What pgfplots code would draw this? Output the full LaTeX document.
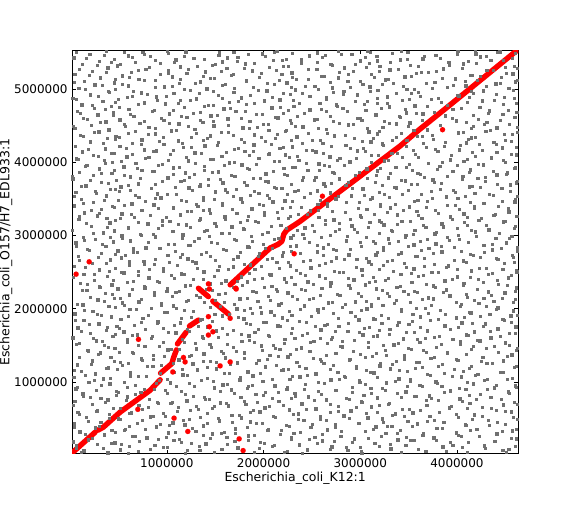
\documentclass[border=0pt]{standalone}
\usepackage{fontspec}
\setmainfont{DejaVu Sans}
\usepackage{pgfplots}
\pgfplotsset{compat=1.18}
\definecolor{dotgray}{RGB}{112,112,112}
\definecolor{hitred}{RGB}{255,0,0}
\begin{document}
\begin{tikzpicture}
\begin{axis}[
  scale only axis, width=446bp, height=403bp,
  xmin=20, xmax=4635, ymin=20, ymax=5530,
  xtick={1000,2000,3000,4000},
  xticklabels={1000000,2000000,3000000,4000000},
  ytick={1000,2000,3000,4000,5000},
  yticklabels={1000000,2000000,3000000,4000000,5000000},
  tick align=inside, major tick length=4bp,
  tick style={black, line width=0.6bp},
  axis line style={black, line width=0.9bp},
  ticklabel style={font=\fontsize{12}{14}\selectfont},
  /pgf/number format/assume math mode=true,
  xticklabel style={yshift=-1bp},
  yticklabel style={xshift=-1bp},
  xlabel={Escherichia\_coli\_K12:1},
  ylabel={Escherichia\_coli\_O157/H7\_EDL933:1},
  every axis x label/.style={at={(axis description cs:0.5,0)}, anchor=center, yshift=-25bp, font=\fontsize{12.5}{14}\selectfont},
  every axis y label/.style={at={(axis description cs:-0.148,0.5)}, rotate=90, anchor=center, font=\fontsize{12.5}{14}\selectfont},
  clip=true,
]
\coordinate (SW) at (rel axis cs:0,0);
\coordinate (NE) at (rel axis cs:1,1);
% grey random word hits (set 1)
\addplot[color=dotgray, only marks, mark=square*, mark size=1.0bp, mark options={solid, fill=dotgray, draw=dotgray, line width=0.2bp}] coordinates {
(112,48)(603,31)(1210,66)(1490,40)(2240,55)(2400,29)(3010,62)(3420,37)(3890,51)(4510,44)
(340,95)(822,80)(1003,110)(1777,74)(1950,101)(2690,88)(2850,115)(3600,79)(4050,106)(4290,92)
(61,140)(530,158)(1330,122)(1620,149)(2105,131)(2555,160)(3190,127)(3310,152)(3955,138)(4600,120)
(420,170)(710,199)(1150,183)(1840,207)(2010,166)(2730,190)(2920,175)(3560,204)(4120,180)(4380,195)
(230,240)(905,214)(990,251)(1450,228)(2290,246)(2470,219)(3085,233)(3470,250)(3780,212)(4555,237)
(150,290)(640,262)(1380,279)(1710,298)(1905,270)(2610,284)(3220,260)(3650,295)(4010,276)(4230,258)
(470,310)(560,339)(1090,322)(1560,305)(2180,344)(2380,318)(2800,330)(3380,307)(4140,341)(4470,325)
(45,380)(780,352)(1260,370)(1825,389)(2050,361)(2740,377)(3130,350)(3540,391)(3850,366)(4615,357)
(300,401)(930,428)(1020,410)(1420,436)(2260,396)(2500,419)(2990,437)(3280,404)(4080,423)(4330,408)
(190,470)(690,445)(1170,482)(1680,458)(1990,441)(2650,474)(3240,450)(3690,466)(3760,481)(4420,447)
(400,512)(520,490)(1340,526)(1530,501)(2120,519)(2360,488)(2880,507)(3450,529)(4160,494)(4580,515)
(95,560)(860,536)(960,572)(1750,549)(2310,565)(2580,540)(3060,575)(3330,545)(3990,558)(4260,533)
(270,600)(610,581)(1240,615)(1860,590)(1890,620)(2770,597)(3170,583)(3620,612)(3820,586)(4500,604)
(440,650)(740,628)(1120,661)(1470,640)(2060,667)(2440,633)(2960,654)(3510,626)(4100,648)(4350,637)
(30,690)(905,705)(1300,676)(1610,712)(2200,681)(2690,699)(3200,688)(3300,710)(3940,672)(4620,703)
(360,730)(580,758)(1050,719)(1800,745)(1930,731)(2520,755)(3020,722)(3680,750)(4050,736)(4200,760)
(210,790)(820,770)(1390,800)(1440,766)(2280,785)(2330,805)(2850,775)(3420,796)(3730,781)(4460,765)
(130,812)(670,840)(1190,829)(1700,851)(2000,818)(2600,835)(3110,847)(3580,810)(4130,826)(4540,843)
(480,880)(500,858)(980,895)(1550,871)(2150,862)(2750,890)(2920,856)(3260,884)(3870,868)(4310,897)
(75,925)(760,904)(1280,940)(1830,917)(2240,930)(2420,902)(3230,921)(3640,943)(4020,910)(4610,936)
(320,960)(890,985)(1100,950)(1620,975)(1880,956)(2630,989)(3050,968)(3480,947)(3790,980)(4400,962)
(250,1020)(560,995)(1350,1030)(1480,1008)(2090,1035)(2560,1001)(2990,1025)(3360,1012)(4110,994)(4280,1028)
(410,1050)(700,1075)(1000,1042)(1760,1062)(2300,1080)(2780,1046)(3170,1069)(3520,1039)(3950,1077)(4570,1055)
(160,1100)(930,1121)(1210,1090)(1590,1115)(1960,1127)(2450,1098)(2830,1086)(3690,1110)(3870,1125)(4190,1093)
(40,1160)(620,1135)(1310,1170)(1840,1144)(2180,1157)(2690,1173)(3100,1139)(3400,1166)(4060,1151)(4480,1131)
(370,1190)(800,1215)(1160,1180)(1420,1205)(2250,1178)(2370,1219)(2960,1196)(3570,1183)(3810,1212)(4590,1200)
(220,1250)(540,1226)(1070,1260)(1650,1238)(1920,1264)(2720,1231)(3210,1255)(3330,1244)(4150,1223)(4360,1262)
(450,1280)(740,1305)(1380,1290)(1510,1271)(2040,1309)(2600,1285)(2880,1299)(3610,1276)(3990,1311)(4250,1288)
(90,1340)(860,1318)(970,1352)(1800,1330)(2150,1356)(2510,1322)(3050,1345)(3450,1315)(3760,1337)(4520,1350)
(290,1380)(650,1400)(1250,1365)(1580,1392)(2270,1376)(2650,1361)(3160,1398)(3270,1372)(4090,1387)(4430,1403)
(180,1430)(510,1410)(1130,1445)(1720,1420)(1990,1438)(2340,1449)(2930,1416)(3650,1433)(3900,1408)(4610,1441)
(390,1470)(920,1490)(1040,1455)(1460,1481)(2120,1463)(2790,1494)(3080,1476)(3500,1459)(4170,1488)(4300,1466)
(60,1520)(700,1500)(1290,1535)(1620,1511)(2210,1527)(2480,1540)(3240,1504)(3390,1531)(3840,1517)(4540,1499)
(330,1560)(590,1585)(1180,1550)(1850,1572)(1900,1547)(2700,1580)(2810,1563)(3590,1588)(4030,1554)(4210,1576)
(240,1600)(850,1625)(1380,1593)(1530,1617)(2060,1631)(2590,1606)(3130,1622)(3670,1597)(3760,1613)(4450,1633)
(470,1660)(640,1640)(1010,1675)(1770,1652)(2290,1668)(2400,1644)(2990,1679)(3300,1656)(4120,1637)(4600,1670)
(110,1700)(780,1720)(1230,1690)(1690,1711)(1940,1724)(2740,1697)(3200,1707)(3470,1685)(3930,1719)(4340,1702)
(380,1750)(510,1735)(1320,1765)(1570,1742)(2170,1759)(2530,1770)(3040,1730)(3620,1754)(4010,1745)(4270,1768)
(200,1790)(900,1810)(1080,1778)(1820,1801)(2030,1815)(2660,1786)(2870,1806)(3380,1780)(4160,1798)(4560,1815)
(50,1850)(730,1825)(1360,1860)(1470,1838)(2240,1845)(2440,1822)(3150,1857)(3540,1831)(3800,1862)(4490,1841)
(420,1880)(600,1905)(1150,1870)(1740,1893)(2110,1908)(2770,1876)(2950,1898)(3290,1867)(4070,1889)(4240,1903)
(280,1930)(810,1915)(970,1950)(1640,1925)(1880,1941)(2560,1955)(3220,1920)(3700,1944)(3880,1933)(4620,1917)
(140,1980)(680,2000)(1270,1962)(1800,1987)(2260,1970)(2380,1995)(3010,1977)(3420,2001)(4130,1960)(4400,1990)
(460,2020)(560,2045)(1100,2010)(1550,2035)(1960,2025)(2620,2008)(3110,2040)(3580,2016)(3730,2047)(4300,2030)
(70,2070)(940,2055)(1390,2090)(1700,2062)(2180,2081)(2710,2093)(2840,2058)(3350,2075)(4040,2066)(4580,2088)
(350,2110)(730,2135)(1200,2100)(1500,2125)(2070,2118)(2470,2139)(3060,2105)(3640,2130)(3990,2097)(4180,2121)
(210,2160)(520,2145)(1050,2180)(1830,2152)(2300,2170)(2580,2185)(3180,2148)(3300,2175)(4100,2163)(4470,2150)
(430,2200)(870,2225)(1300,2191)(1600,2214)(1920,2230)(2760,2197)(2980,2219)(3490,2205)(3860,2228)(4350,2193)
(120,2250)(640,2270)(1130,2240)(1470,2262)(2140,2247)(2390,2275)(3230,2256)(3560,2238)(4210,2271)(4600,2244)
(310,2290)(770,2310)(1000,2285)(1780,2320)(2010,2298)(2690,2315)(2900,2282)(3410,2306)(3770,2293)(4520,2322)
(180,2340)(590,2365)(1240,2330)(1560,2352)(2230,2368)(2510,2336)(3090,2359)(3680,2344)(4060,2329)(4270,2362)
(440,2390)(900,2375)(1370,2410)(1730,2385)(1900,2402)(2640,2415)(3150,2379)(3260,2397)(3950,2412)(4420,2388)
(30,2430)(700,2455)(1080,2420)(1490,2445)(2280,2437)(2430,2460)(2870,2425)(3600,2449)(4140,2433)(4560,2458)
(250,2480)(530,2505)(1180,2470)(1850,2492)(2060,2476)(2780,2500)(3020,2466)(3530,2487)(3810,2503)(4320,2472)
(400,2520)(820,2545)(960,2515)(1630,2538)(2160,2552)(2340,2527)(3200,2541)(3340,2512)(4000,2549)(4610,2530)
(150,2570)(610,2595)(1310,2560)(1540,2585)(1970,2577)(2570,2598)(2960,2563)(3660,2590)(3890,2572)(4230,2557)
(370,2620)(760,2605)(1020,2640)(1800,2615)(2250,2633)(2700,2645)(3110,2610)(3450,2628)(4090,2637)(4490,2618)
(90,2660)(880,2685)(1260,2652)(1690,2675)(2090,2690)(2480,2665)(2830,2680)(3280,2655)(3970,2672)(4400,2688)
(290,2710)(570,2735)(1140,2700)(1450,2722)(1940,2716)(2620,2737)(3060,2697)(3570,2714)(4170,2731)(4580,2703)
(460,2750)(690,2775)(1350,2745)(1760,2768)(2200,2781)(2380,2756)(3170,2770)(3390,2742)(3750,2762)(4280,2779)
(200,2800)(920,2825)(1090,2790)(1580,2812)(2020,2829)(2750,2796)(2900,2818)(3630,2806)(4040,2788)(4460,2823)
(60,2850)(650,2835)(1220,2870)(1850,2846)(2270,2860)(2550,2875)(3240,2840)(3500,2862)(3840,2853)(4620,2837)
(330,2890)(810,2915)(1010,2880)(1520,2903)(1880,2920)(2670,2886)(3000,2909)(3300,2895)(4120,2917)(4360,2882)
(140,2940)(540,2965)(1280,2930)(1700,2955)(2110,2946)(2420,2967)(3130,2926)(3690,2950)(3920,2937)(4540,2961)
(410,2980)(730,3005)(1160,2972)(1440,2995)(2310,3010)(2600,2985)(2860,2999)(3460,2977)(4010,3012)(4200,2990)
(240,3030)(860,3020)(1390,3055)(1640,3040)(1990,3026)(2740,3058)(3190,3035)(3550,3018)(3780,3047)(4440,3029)
(20,3080)(600,3100)(1050,3066)(1800,3088)(2230,3103)(2350,3074)(2940,3094)(3320,3081)(4150,3069)(4590,3099)
(380,3120)(950,3145)(1240,3112)(1510,3135)(2080,3128)(2500,3150)(3080,3116)(3650,3140)(3860,3123)(4300,3147)
(170,3170)(700,3190)(1120,3160)(1760,3182)(1910,3195)(2780,3166)(3220,3187)(3380,3156)(4070,3178)(4500,3193)
(460,3210)(520,3235)(1330,3205)(1600,3228)(2150,3240)(2640,3215)(2890,3231)(3520,3202)(3950,3222)(4250,3243)
(90,3260)(830,3285)(990,3250)(1840,3272)(2270,3266)(2450,3288)(3010,3255)(3600,3279)(4110,3248)(4610,3270)
(300,3310)(630,3295)(1210,3330)(1450,3305)(2010,3320)(2710,3335)(3140,3300)(3280,3324)(3800,3313)(4390,3296)
(220,3350)(910,3375)(1380,3342)(1680,3366)(2190,3379)(2560,3355)(2980,3370)(3440,3345)(4020,3361)(4530,3380)
(430,3400)(560,3420)(1060,3390)(1570,3412)(1950,3425)(2390,3396)(3210,3408)(3680,3386)(3900,3419)(4180,3403)
(130,3440)(780,3465)(1300,3433)(1780,3455)(2300,3470)(2660,3445)(2850,3461)(3360,3437)(4140,3452)(4470,3472)
(350,3490)(880,3510)(1150,3480)(1490,3503)(2060,3517)(2590,3486)(3100,3500)(3560,3478)(3740,3512)(4600,3494)
(40,3540)(670,3560)(1370,3526)(1860,3548)(2240,3563)(2770,3533)(3040,3554)(3300,3529)(4080,3545)(4330,3565)
(270,3580)(510,3605)(1000,3572)(1620,3593)(1900,3609)(2480,3585)(3190,3598)(3630,3570)(3980,3588)(4550,3611)
(470,3630)(840,3650)(1260,3618)(1720,3641)(2130,3655)(2360,3625)(2920,3645)(3490,3622)(3830,3636)(4240,3657)
(110,3670)(600,3695)(1090,3663)(1430,3686)(2280,3700)(2640,3675)(3230,3690)(3350,3667)(4160,3681)(4420,3703)
(390,3720)(950,3740)(1340,3708)(1800,3731)(2020,3745)(2700,3715)(2870,3736)(3590,3710)(3760,3726)(4620,3748)
(210,3760)(720,3785)(1180,3755)(1550,3778)(1960,3792)(2520,3762)(3070,3782)(3420,3757)(4050,3773)(4290,3795)
(20,3810)(560,3830)(1230,3800)(1660,3823)(2210,3838)(2410,3805)(3160,3828)(3660,3802)(3900,3819)(4510,3840)
(320,3860)(870,3880)(1060,3847)(1470,3869)(2100,3884)(2730,3853)(2990,3873)(3310,3850)(4130,3866)(4370,3887)
(450,3900)(690,3925)(1390,3893)(1830,3916)(2330,3930)(2570,3898)(3210,3920)(3540,3895)(3790,3911)(4600,3933)
(160,3950)(910,3970)(1130,3940)(1590,3962)(1920,3977)(2680,3945)(2830,3966)(3470,3942)(4000,3957)(4220,3979)
(360,3990)(530,4015)(1290,3985)(1700,4007)(2160,4022)(2440,3990)(3110,4011)(3700,3987)(3850,4003)(4480,4025)
(80,4040)(780,4060)(1010,4030)(1480,4052)(2260,4067)(2760,4035)(2960,4056)(3290,4032)(4100,4048)(4350,4071)
(290,4090)(640,4110)(1200,4077)(1850,4100)(2050,4115)(2350,4082)(3180,4104)(3600,4079)(3940,4095)(4560,4117)
(420,4130)(860,4155)(1350,4123)(1610,4146)(1890,4160)(2620,4127)(3050,4150)(3380,4125)(4160,4141)(4260,4163)
(190,4180)(580,4200)(1070,4170)(1740,4192)(2200,4207)(2500,4175)(2900,4197)(3550,4172)(3770,4188)(4610,4209)
(50,4220)(730,4245)(1250,4215)(1520,4237)(2080,4252)(2700,4220)(3240,4242)(3470,4217)(4030,4233)(4400,4255)
(340,4270)(920,4290)(1160,4260)(1800,4282)(2290,4298)(2400,4265)(3020,4287)(3650,4262)(3880,4278)(4500,4300)
(470,4320)(510,4340)(1380,4306)(1420,4328)(1970,4344)(2580,4311)(3130,4333)(3330,4308)(4120,4324)(4190,4346)
(130,4360)(810,4385)(960,4352)(1690,4374)(2140,4390)(2730,4357)(2840,4379)(3590,4355)(3740,4370)(4570,4392)
(250,4410)(670,4430)(1300,4398)(1560,4420)(2230,4436)(2460,4403)(3190,4425)(3420,4400)(4060,4416)(4340,4438)
(400,4450)(880,4475)(1100,4444)(1850,4466)(1930,4482)(2650,4449)(3070,4471)(3690,4446)(4150,4462)(4620,4484)
(30,4500)(560,4520)(1220,4490)(1630,4512)(2050,4528)(2330,4495)(2930,4517)(3500,4492)(3830,4508)(4280,4530)
(310,4550)(760,4570)(1020,4536)(1480,4558)(2270,4574)(2780,4541)(3250,4563)(3300,4538)(4090,4554)(4450,4576)
(180,4590)(940,4610)(1340,4582)(1770,4604)(2120,4620)(2550,4587)(3000,4609)(3640,4584)(3950,4600)(4590,4622)
(440,4640)(620,4660)(1150,4628)(1520,4650)(1990,4666)(2690,4633)(3150,4655)(3400,4630)(4170,4646)(4320,4668)
(100,4680)(850,4705)(1270,4674)(1810,4696)(2250,4712)(2420,4679)(2860,4701)(3580,4676)(3760,4692)(4530,4714)
(360,4730)(510,4750)(1060,4720)(1650,4742)(2170,4758)(2600,4725)(3220,4747)(3460,4722)(4040,4738)(4230,4760)
(230,4780)(700,4800)(1390,4766)(1430,4788)(1900,4804)(2760,4771)(3040,4793)(3690,4768)(3900,4784)(4610,4806)
(470,4820)(900,4845)(1120,4812)(1740,4834)(2310,4850)(2370,4817)(2950,4839)(3280,4814)(4110,4830)(4380,4852)
(60,4870)(590,4890)(1240,4858)(1570,4880)(2090,4896)(2650,4863)(3170,4885)(3510,4860)(3800,4876)(4490,4898)
(290,4910)(800,4935)(990,4904)(1860,4926)(2200,4942)(2480,4909)(2820,4931)(3620,4906)(4000,4922)(4170,4944)
(400,4960)(650,4980)(1330,4950)(1480,4972)(1940,4988)(2720,4955)(3100,4977)(3370,4952)(4150,4968)(4580,4990)
(150,5000)(880,5025)(1180,4996)(1700,5018)(2280,5034)(2560,5001)(2900,5023)(3560,4998)(3740,5014)(4300,5036)
(330,5050)(540,5070)(1050,5042)(1600,5064)(2040,5080)(2430,5047)(3230,5069)(3440,5044)(3960,5060)(4450,5082)
(40,5100)(760,5120)(1290,5088)(1820,5110)(2160,5126)(2690,5093)(3000,5115)(3680,5090)(4080,5106)(4620,5128)
(460,5140)(610,5165)(1140,5134)(1450,5156)(2300,5172)(2340,5139)(3140,5161)(3290,5136)(3850,5152)(4240,5174)
(200,5190)(930,5210)(1370,5180)(1690,5202)(1970,5218)(2600,5185)(2870,5207)(3530,5182)(4140,5198)(4510,5220)
(370,5230)(700,5255)(1010,5226)(1560,5248)(2130,5264)(2780,5231)(3200,5253)(3630,5228)(3780,5244)(4370,5266)
(90,5280)(820,5300)(1220,5272)(1800,5294)(2250,5310)(2460,5277)(3060,5299)(3390,5274)(4050,5290)(4590,5312)
(280,5330)(520,5350)(1310,5318)(1500,5340)(1900,5356)(2710,5323)(2950,5345)(3600,5320)(3920,5336)(4200,5358)
(420,5370)(880,5395)(1080,5364)(1730,5386)(2190,5402)(2550,5369)(3170,5391)(3310,5366)(4120,5382)(4480,5404)
(170,5420)(640,5440)(1390,5410)(1620,5432)(2020,5448)(2390,5415)(3050,5437)(3480,5412)(3830,5428)(4300,5450)
(350,5460)(760,5485)(1180,5456)(1840,5478)(2300,5494)(2640,5461)(2800,5483)(3660,5458)(4000,5474)(4600,5496)
(60,5510)(560,5505)(1000,5520)(1540,5512)(2110,5503)(2770,5518)(3100,5508)(3420,5522)(4190,5514)(4420,5506)
};
% grey random word hits (set 2)
\addplot[color=dotgray, only marks, mark=square*, mark size=1.2bp, mark options={solid, fill=dotgray, draw=dotgray, line width=0.2bp}] coordinates {
(140,61)(388,33)(705,52)(1188,28)(1340,70)(1902,44)(2215,38)(2871,66)(3013,30)(3677,57)(4102,41)(4470,68)
(62,99)(515,78)(960,113)(1567,85)(1733,104)(2450,75)(2998,109)(3312,92)(3850,116)(4533,81)
(276,150)(611,121)(874,137)(1402,160)(2090,126)(2367,147)(2702,119)(3470,141)(4280,131)
(31,187)(459,171)(1069,205)(1250,168)(1699,194)(1964,181)(2608,199)(3150,166)(3522,207)(3930,178)(4388,190)
(188,213)(790,238)(1130,222)(1618,251)(2288,218)(2530,246)(2934,229)(3388,215)(3759,242)(4610,226)
(353,282)(674,261)(1466,297)(1840,270)(2170,289)(2795,259)(3261,301)(3644,276)(4043,264)(4412,295)
(97,322)(428,345)(1013,306)(1297,331)(1590,318)(2041,339)(2311,303)(3050,327)(3410,341)(3991,310)(4570,334)
(256,375)(566,356)(891,388)(1705,362)(2488,381)(2660,349)(3160,392)(3788,370)(4204,358)
(44,430)(612,398)(1183,417)(1378,405)(1925,436)(2232,412)(2739,425)(3324,397)(3590,431)(4091,408)(4499,421)
(315,452)(742,478)(1061,444)(1542,470)(1863,459)(2413,483)(2977,441)(3490,466)(3862,455)(4322,480)
(168,518)(497,501)(830,527)(1228,494)(1771,512)(2102,530)(2587,490)(3076,515)(3228,502)(4011,524)(4625,497)
(402,561)(980,537)(1415,574)(1669,548)(2356,569)(2826,543)(3363,566)(3718,534)(4180,556)
(79,592)(281,611)(633,583)(1107,604)(1960,596)(2263,620)(2689,588)(2901,609)(3542,579)(4402,615)(4560,593)
(515,641)(807,660)(1322,630)(1488,667)(2012,652)(2540,638)(3112,665)(3434,627)(3916,649)(4263,658)
(226,700)(710,683)(1041,712)(1634,676)(1815,699)(2394,706)(2768,672)(3291,694)(3687,681)(4131,710)(4475,689)
(45,738)(388,757)(901,726)(1203,748)(1552,717)(2155,741)(2649,760)(3007,733)(3806,753)(4590,725)
(315,780)(592,799)(1396,769)(1763,792)(2089,776)(2460,803)(2885,766)(3175,787)(3555,806)(4026,772)(4349,795)
(131,840)(476,819)(1002,851)(1270,811)(1920,833)(2322,846)(3033,822)(3382,849)(3714,815)(4238,838)
(268,888)(729,861)(1148,873)(1664,896)(2014,858)(2566,879)(2739,891)(3467,866)(3932,884)(4530,870)
(57,912)(589,934)(868,903)(1489,925)(1842,940)(2240,906)(2917,929)(3109,915)(3841,944)(4088,902)(4387,921)
(410,978)(674,955)(1233,986)(1578,962)(2115,949)(2428,973)(3265,990)(3612,958)(4166,980)(4600,951)
(190,1002)(923,1025)(1036,994)(1751,1031)(1989,1014)(2693,1033)(2992,999)(3514,1021)(3780,1008)(4310,1036)
(35,1068)(343,1045)(787,1079)(1418,1056)(2268,1041)(2373,1074)(2841,1063)(3397,1049)(4045,1071)(4519,1039)
(259,1117)(621,1090)(1165,1103)(1647,1125)(1889,1088)(2539,1112)(3140,1128)(3722,1095)(4212,1107)
(116,1151)(488,1173)(1074,1134)(1312,1160)(1836,1142)(2204,1170)(2766,1139)(3058,1164)(3486,1147)(3969,1175)(4447,1132)
(390,1199)(851,1218)(1511,1184)(2019,1210)(2437,1190)(2955,1219)(3307,1181)(3640,1204)(4123,1193)(4613,1213)
(71,1239)(602,1262)(940,1228)(1266,1250)(1726,1265)(2131,1233)(2623,1257)(3200,1226)(3847,1246)(4305,1260)
(228,1293)(517,1270)(1121,1307)(1450,1282)(1951,1298)(2342,1275)(2888,1311)(3368,1287)(3582,1269)(4006,1301)(4480,1290)
(420,1339)(731,1320)(1228,1354)(1600,1331)(2247,1348)(2584,1316)(3124,1357)(3729,1326)(4264,1341)
(10,1376)(312,1399)(859,1366)(1381,1388)(1797,1403)(2064,1371)(2745,1395)(3001,1380)(3456,1362)(3896,1393)(4567,1375)
(186,1428)(643,1412)(1010,1440)(1559,1419)(2168,1450)(2475,1421)(3257,1437)(3678,1409)(4149,1446)
(459,1466)(772,1489)(1304,1458)(1686,1480)(1974,1495)(2388,1470)(2811,1485)(3523,1453)(3787,1477)(4386,1491)(4620,1460)
(92,1530)(351,1508)(964,1541)(1443,1517)(2096,1501)(2657,1529)(3082,1542)(3344,1512)(4030,1525)(4498,1537)
(267,1568)(587,1549)(1160,1582)(1772,1561)(2218,1588)(2519,1555)(2934,1575)(3612,1547)(3953,1584)(4233,1566)
(24,1606)(441,1629)(838,1598)(1367,1620)(1847,1633)(2323,1601)(2709,1616)(3176,1634)(3441,1594)(3818,1623)(4349,1609)
(208,1664)(690,1645)(1091,1677)(1626,1656)(2049,1641)(2450,1672)(3023,1650)(3556,1680)(4092,1647)(4540,1668)
(372,1708)(551,1690)(1212,1722)(1507,1700)(1908,1685)(2592,1716)(2868,1693)(3302,1725)(3691,1704)(4178,1689)
(76,1741)(481,1766)(959,1733)(1421,1755)(2147,1770)(2298,1738)(2776,1761)(3094,1747)(3874,1771)(4419,1730)(4608,1758)
(294,1800)(659,1781)(1140,1812)(1863,1790)(2001,1817)(2633,1776)(3219,1803)(3498,1788)(4050,1814)(4290,1795)
(139,1843)(523,1859)(904,1826)(1342,1850)(1793,1864)(2365,1832)(2984,1855)(3395,1822)(3725,1845)(4470,1861)
(423,1898)(748,1871)(1249,1889)(1569,1909)(2194,1877)(2493,1901)(3136,1868)(3621,1894)(3989,1881)(4556,1906)
(46,1936)(322,1917)(1003,1953)(1492,1930)(1977,1946)(2289,1914)(2720,1938)(2899,1956)(3543,1924)(4143,1949)(4337,1931)
(233,1971)(615,1995)(1178,1979)(1721,2002)(2072,1963)(2560,1989)(3064,2000)(3422,1966)(3828,1985)(4583,1974)
(397,2037)(836,2013)(1063,2046)(1445,2021)(1858,2007)(2417,2041)(2810,2026)(3231,2048)(3669,2011)(4034,2033)(4420,2019)
(128,2060)(540,2083)(942,2071)(1590,2094)(2156,2058)(2666,2085)(3114,2066)(3514,2091)(4222,2075)
(283,2127)(709,2101)(1222,2116)(1752,2140)(1938,2109)(2350,2131)(2946,2099)(3368,2122)(3755,2138)(4378,2106)(4602,2129)
(17,2168)(455,2150)(868,2184)(1337,2159)(2045,2176)(2510,2145)(3007,2171)(3699,2155)(3925,2182)(4275,2147)
(359,2213)(612,2194)(1090,2229)(1534,2202)(2247,2220)(2787,2190)(3278,2215)(3589,2231)(4097,2198)(4493,2224)
(171,2259)(493,2277)(997,2242)(1405,2266)(1887,2238)(2132,2270)(2431,2252)(3162,2277)(3450,2245)(3890,2263)(4320,2236)
(299,2305)(771,2288)(1186,2319)(1687,2297)(2083,2311)(2601,2283)(2880,2322)(3378,2300)(3752,2316)(4609,2292)
(104,2349)(431,2332)(918,2361)(1447,2343)(1829,2369)(2322,2336)(2694,2357)(3053,2328)(3531,2365)(4069,2347)(4424,2338)
(250,2396)(653,2380)(1271,2409)(1606,2386)(2210,2414)(2454,2374)(2933,2401)(3285,2416)(3873,2383)(4218,2405)
(382,2446)(812,2425)(1045,2459)(1768,2438)(1983,2420)(2577,2452)(3132,2433)(3652,2461)(4003,2441)(4530,2427)
(138,2470)(554,2494)(1148,2481)(1379,2506)(2074,2467)(2376,2489)(2825,2501)(3418,2475)(3739,2498)(4366,2484)(4617,2507)
(301,2535)(706,2518)(962,2550)(1524,2528)(1906,2541)(2731,2513)(3015,2537)(3551,2551)(4145,2521)(4470,2546)
(40,2582)(468,2560)(1105,2593)(1684,2574)(2276,2588)(2488,2565)(3238,2597)(3475,2569)(3910,2589)(4302,2558)
(226,2626)(611,2643)(866,2610)(1297,2632)(1860,2605)(2134,2638)(2639,2621)(3087,2646)(3763,2613)(4591,2635)
(412,2673)(760,2655)(1216,2688)(1500,2664)(2035,2679)(2408,2650)(2962,2683)(3329,2668)(3661,2691)(4063,2657)(4421,2676)
(83,2719)(527,2700)(1008,2732)(1731,2711)(2192,2726)(2750,2697)(3157,2739)(3590,2718)(4241,2705)(4570,2730)
(320,2765)(651,2781)(1158,2748)(1405,2772)(1957,2759)(2556,2784)(2880,2743)(3420,2767)(3841,2779)(4134,2751)
(174,2812)(492,2795)(930,2826)(1612,2804)(2091,2831)(2283,2790)(2720,2818)(3236,2800)(3705,2827)(4362,2809)(4619,2793)
(368,2855)(780,2838)(1236,2871)(1837,2849)(2339,2866)(2617,2835)(3011,2860)(3553,2876)(3968,2844)(4275,2868)
(58,2902)(447,2920)(1077,2885)(1455,2910)(1998,2881)(2473,2915)(3154,2896)(3393,2922)(3781,2890)(4509,2906)
(260,2949)(622,2930)(1328,2962)(1715,2940)(2154,2968)(2852,2934)(3288,2957)(3616,2927)(4025,2951)(4400,2966)
(134,2976)(533,3001)(876,2988)(1163,3012)(1871,2995)(2281,2972)(2690,3006)(3060,2983)(3471,3010)(3901,2979)(4564,2997)
(338,3041)(721,3024)(1058,3058)(1566,3034)(2040,3050)(2406,3018)(2970,3045)(3330,3060)(3767,3028)(4185,3053)
(19,3087)(455,3069)(911,3103)(1412,3078)(1788,3094)(2523,3064)(2781,3089)(3562,3073)(4002,3105)(4328,3082)
(219,3133)(598,3115)(1199,3149)(1670,3124)(2177,3140)(2426,3110)(2911,3136)(3241,3152)(3674,3118)(4106,3144)(4602,3127)
(410,3179)(802,3162)(1027,3195)(1492,3171)(1946,3186)(2637,3157)(3097,3182)(3428,3198)(3842,3166)(4479,3189)
(87,3225)(376,3241)(954,3207)(1345,3232)(1830,3213)(2251,3243)(2725,3220)(3194,3204)(3636,3237)(4224,3215)
(279,3271)(664,3254)(1140,3287)(1598,3262)(2003,3278)(2570,3249)(2997,3273)(3382,3289)(3930,3257)(4380,3281)(4617,3266)
(142,3317)(531,3299)(1250,3332)(1721,3309)(2142,3324)(2358,3295)(2841,3319)(3582,3335)(4069,3302)(4535,3327)
(323,3363)(739,3345)(1063,3378)(1437,3354)(1878,3370)(2479,3341)(3066,3365)(3309,3381)(3773,3349)(4178,3373)
(42,3409)(452,3391)(863,3425)(1317,3400)(1994,3416)(2273,3387)(2656,3411)(3206,3427)(3507,3395)(3981,3419)(4423,3404)
(236,3455)(634,3437)(1197,3471)(1569,3446)(2095,3462)(2560,3433)(2988,3457)(3690,3473)(4274,3441)(4596,3465)
(114,3501)(496,3483)(935,3517)(1373,3492)(1761,3508)(2217,3479)(2745,3503)(3122,3519)(3592,3487)(4008,3511)
(372,3547)(707,3529)(1098,3563)(1685,3538)(2037,3554)(2419,3525)(2904,3549)(3430,3565)(3886,3533)(4376,3557)(4620,3541)
(58,3593)(257,3611)(901,3575)(1502,3600)(1951,3582)(2322,3608)(2690,3588)(3245,3571)(3732,3604)(4183,3579)
(416,3639)(622,3621)(1226,3655)(1603,3630)(2186,3646)(2556,3617)(3024,3641)(3370,3657)(3959,3625)(4461,3649)
(161,3685)(523,3667)(877,3701)(1337,3676)(1823,3692)(2108,3663)(2849,3687)(3527,3703)(4123,3671)(4548,3695)
(320,3731)(702,3713)(1143,3747)(1576,3722)(2045,3738)(2621,3709)(3154,3733)(3466,3749)(3834,3717)(4288,3741)(4611,3725)
(26,3777)(477,3759)(1007,3793)(1424,3768)(1894,3784)(2398,3755)(2783,3779)(3287,3795)(3748,3763)(4212,3787)
(236,3823)(619,3805)(1281,3839)(1700,3814)(2244,3830)(2537,3801)(2946,3825)(3619,3841)(4059,3809)(4412,3833)
(95,3869)(430,3851)(848,3885)(1186,3860)(1529,3876)(2023,3847)(2715,3871)(3177,3887)(3593,3855)(3955,3879)(4520,3863)
(302,3915)(741,3897)(1062,3931)(1853,3906)(2207,3922)(2456,3893)(3066,3917)(3364,3933)(4135,3901)(4595,3925)
(170,3961)(554,3943)(951,3977)(1384,3952)(1773,3968)(2294,3939)(2625,3963)(3506,3979)(3820,3947)(4271,3971)
(436,4007)(678,3989)(1222,4023)(1641,3998)(2109,4014)(2569,3985)(2891,4009)(3245,4025)(3701,3993)(4070,4017)(4498,4001)
(61,4053)(349,4035)(812,4069)(1446,4044)(1951,4060)(2362,4031)(2788,4055)(3432,4071)(3928,4039)(4356,4063)
(240,4099)(585,4081)(1036,4115)(1567,4090)(2220,4106)(2683,4077)(3115,4101)(3567,4117)(4187,4085)(4614,4109)
(124,4145)(457,4127)(889,4161)(1287,4136)(1804,4152)(2058,4123)(2537,4147)(2966,4163)(3324,4131)(3801,4155)(4410,4139)
(364,4191)(766,4173)(1166,4207)(1695,4182)(2167,4198)(2440,4169)(3030,4193)(3684,4209)(4021,4177)(4469,4201)
(18,4237)(512,4219)(968,4253)(1392,4228)(1896,4244)(2296,4215)(2848,4239)(3228,4255)(3866,4223)(4229,4247)
(207,4283)(640,4265)(1119,4299)(1531,4274)(2015,4290)(2612,4261)(3107,4285)(3479,4301)(4094,4269)(4560,4293)(4378,4279)
(380,4329)(738,4311)(1252,4345)(1765,4320)(2118,4336)(2502,4307)(2938,4331)(3372,4347)(3751,4315)(4149,4339)
(106,4375)(469,4357)(877,4391)(1445,4366)(1901,4382)(2343,4353)(2730,4377)(3174,4393)(3640,4361)(4490,4385)
(293,4421)(602,4403)(1047,4437)(1633,4412)(2226,4428)(2656,4399)(3085,4423)(3550,4439)(4009,4407)(4295,4431)(4621,4415)
(48,4467)(398,4449)(812,4483)(1287,4458)(1784,4474)(2052,4445)(2562,4469)(3230,4485)(3690,4453)(4410,4477)
(219,4513)(566,4495)(1122,4529)(1482,4504)(1995,4520)(2405,4491)(2874,4515)(3368,4531)(4165,4499)(4538,4523)
(366,4559)(720,4541)(965,4575)(1370,4550)(1856,4566)(2288,4537)(2720,4561)(3015,4577)(3511,4545)(3989,4569)(4306,4553)
(135,4605)(511,4587)(1203,4621)(1630,4596)(2146,4612)(2525,4583)(2965,4607)(3414,4623)(4220,4591)(4600,4615)
(286,4651)(657,4633)(1021,4667)(1453,4642)(1922,4658)(2350,4629)(3160,4653)(3643,4669)(3880,4637)(4472,4661)
(72,4697)(444,4679)(870,4713)(1341,4688)(1710,4704)(2204,4675)(2646,4699)(3057,4715)(3472,4683)(4334,4707)(4618,4691)
(250,4743)(603,4725)(1180,4759)(1585,4734)(2085,4750)(2476,4721)(2816,4745)(3296,4761)(3955,4729)(4237,4753)
(118,4789)(425,4771)(982,4805)(1477,4780)(1817,4796)(2310,4767)(2748,4791)(3175,4807)(3561,4775)(4479,4799)
(337,4835)(768,4817)(1136,4851)(1643,4826)(2003,4842)(2578,4813)(3069,4837)(3430,4853)(3839,4821)(4261,4845)
(26,4881)(498,4863)(892,4897)(1302,4872)(1765,4888)(2165,4859)(2650,4883)(3278,4899)(3735,4867)(4125,4891)(4590,4875)
(207,4927)(644,4909)(1069,4943)(1532,4918)(2275,4934)(2470,4905)(2970,4929)(3523,4945)(4018,4913)(4403,4937)
(390,4973)(735,4955)(1239,4989)(1689,4964)(2031,4980)(2399,4951)(2826,4975)(3180,4991)(3600,4959)(4269,4983)
(88,5019)(466,5001)(971,5035)(1410,5010)(1890,5026)(2329,4997)(2711,5021)(3095,5037)(3478,5005)(3901,5029)(4535,5013)
(255,5065)(598,5047)(1127,5081)(1573,5056)(2111,5072)(2530,5043)(3023,5067)(3341,5083)(4088,5051)(4400,5075)
(143,5111)(452,5093)(880,5127)(1346,5102)(1819,5118)(2240,5089)(2870,5113)(3257,5129)(3768,5097)(4210,5121)(4604,5105)
(310,5157)(709,5139)(1054,5173)(1486,5148)(1953,5164)(2459,5135)(2771,5159)(3459,5175)(3981,5143)(4455,5167)
(46,5203)(539,5185)(1205,5219)(1662,5194)(2186,5210)(2625,5181)(3110,5205)(3576,5221)(4152,5189)(4577,5213)
(226,5249)(629,5231)(1016,5265)(1396,5240)(1880,5256)(2292,5227)(2925,5251)(3303,5267)(3701,5235)(4306,5259)
(389,5295)(780,5277)(1138,5311)(1617,5286)(2057,5302)(2547,5273)(2833,5297)(3202,5313)(3855,5281)(4500,5305)(4623,5289)
(121,5341)(486,5323)(933,5357)(1466,5332)(1811,5348)(2201,5319)(2692,5343)(3092,5359)(3517,5327)(4061,5351)
(302,5387)(672,5369)(1089,5403)(1570,5378)(2097,5394)(2386,5365)(3001,5389)(3412,5405)(3912,5373)(4347,5397)
(34,5433)(455,5415)(827,5449)(1275,5424)(1733,5440)(2231,5411)(2604,5435)(3171,5451)(3645,5419)(4240,5443)(4568,5427)
(203,5479)(602,5461)(1012,5495)(1535,5470)(1987,5486)(2473,5457)(2912,5481)(3330,5497)(3780,5465)(4193,5489)
(370,5520)(748,5505)(1193,5514)(1692,5510)(2134,5522)(2551,5502)(3074,5517)(3490,5507)(4005,5523)(4440,5512)
};
% red alignment segments
\pgfplotsset{redseg/.style={hitred, line width=5.4bp, line cap=round, line join=round, no marks}}
\addplot[redseg] coordinates {(28,40)(259,314)};
\addplot[redseg] coordinates {(285,340)(344,383)(517,588)(827,886)(931,1030)};
\addplot[redseg] coordinates {(935,1120)(1052,1252)(1069,1330)(1100,1440)};
\addplot[redseg] coordinates {(1110,1520)(1200,1680)};
\addplot[redseg] coordinates {(1234,1764)(1327,1846)};
\addplot[redseg] coordinates {(1327,2281)(1430,2166)};
\addplot[redseg] coordinates {(1475,2105)(1640,1925)};
\addplot[redseg] coordinates {(1655,2327)(2068,2830)(2150,2880)(2189,2921)(2210,3020)(2240,3075)(2378,3195)(2723,3538)(3068,3881)(3412,4224)(3619,4457)(3878,4731)(4619,5528)};
% isolated red hits
\addplot[hitred, only marks, mark=*, mark size=2.6bp, mark options={solid, fill=hitred, draw=hitred, line width=0.1bp}] coordinates {
(62,2473)(197,2642)(707,1582)(700,626)(1075,506)(1217,324)(1748,223)(1789,63)
(1062,1137)(1172,1335)(1189,1274)(1430,2341)(1440,2270)(1717,2270)(1430,1893)(1440,1755)
(1476,1686)(1430,1641)(1655,1870)(1551,1220)(1655,1274)(1713,2281)(2317,2752)(2609,3538)(3851,4447)
};
\end{axis}
\pgfresetboundingbox
\path ([shift={(-72bp,-50.4bp)}]SW) rectangle ([shift={(57.6bp,50.4bp)}]NE);
\end{tikzpicture}
\end{document}
